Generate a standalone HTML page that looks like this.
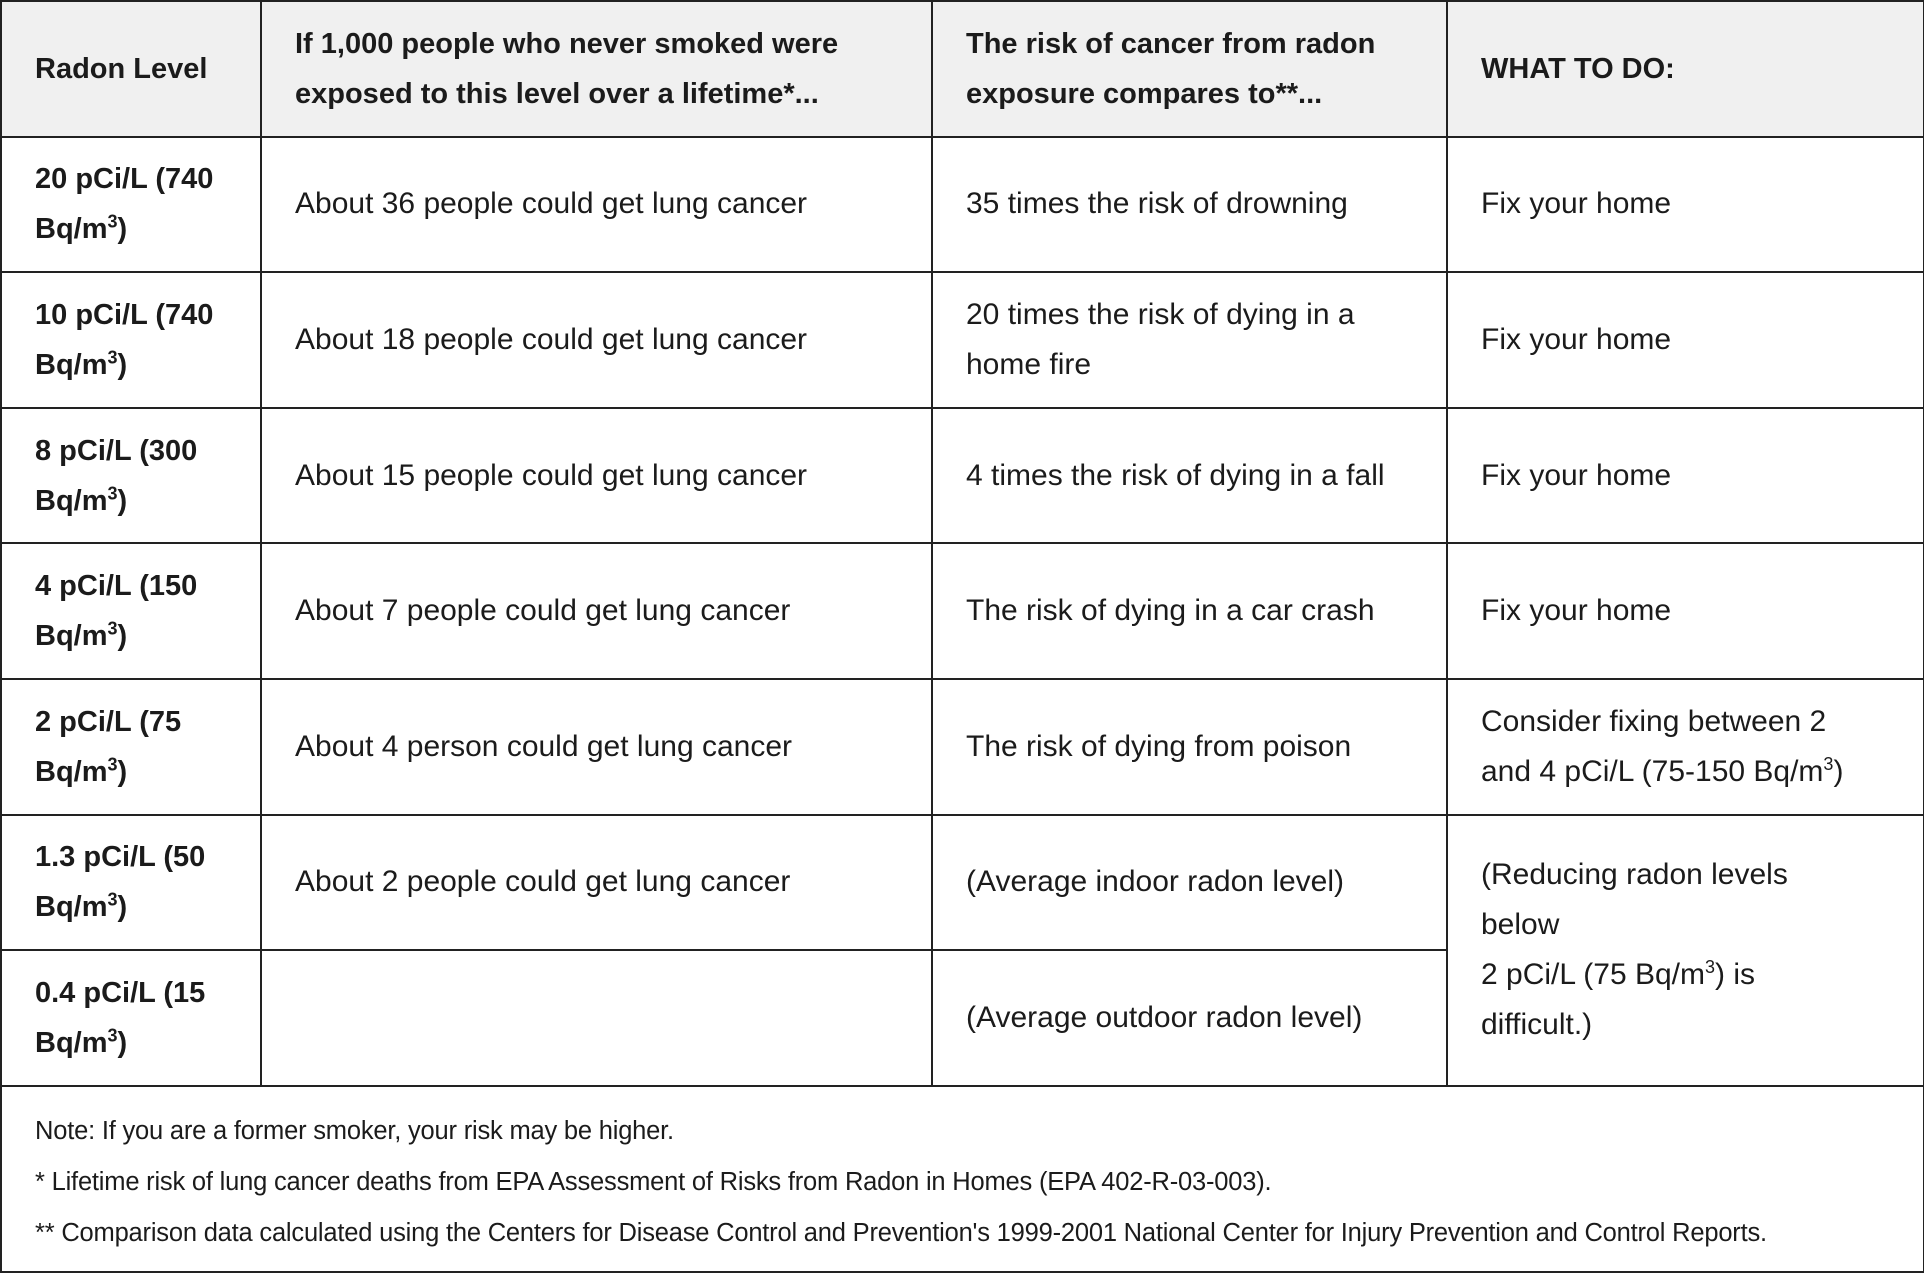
<!DOCTYPE html>
<html><head><meta charset="utf-8"><style>
html,body{margin:0;padding:0;background:#fff;}
body{width:1924px;height:1274px;overflow:hidden;font-family:"Liberation Sans",sans-serif;color:#1b1b1b;}
table{position:absolute;left:0;top:0;border-collapse:collapse;width:1923px;table-layout:fixed;}
td,th{border:2px solid #222;padding:0 26px 0 33px;font-size:30px;line-height:50px;text-align:left;vertical-align:middle;letter-spacing:0;}
th{background:#f0f0f0;font-weight:bold;height:133.6px;font-size:29px;}
td{height:133.6px;}
td.b{font-weight:bold;font-size:29px;}
sup{font-size:18px;line-height:0;vertical-align:super;}
td.foot{height:165px;font-size:25.5px;line-height:51px;vertical-align:top;padding-top:19px;letter-spacing:-0.2px;}
</style></head><body>
<table>
<colgroup><col style="width:260px"><col style="width:671px"><col style="width:515px"><col style="width:477px"></colgroup>
<tr><th>Radon Level</th><th>If 1,000 people who never smoked were exposed to this level over a lifetime*...</th><th>The risk of cancer from radon exposure compares to**...</th><th>WHAT TO DO:</th></tr>
<tr><td class="b">20 pCi/L (740 Bq/m<sup>3</sup>)</td><td>About 36 people could get lung cancer</td><td>35 times the risk of drowning</td><td>Fix your home</td></tr>
<tr><td class="b">10 pCi/L (740 Bq/m<sup>3</sup>)</td><td>About 18 people could get lung cancer</td><td>20 times the risk of dying in a home fire</td><td>Fix your home</td></tr>
<tr><td class="b">8 pCi/L (300 Bq/m<sup>3</sup>)</td><td>About 15 people could get lung cancer</td><td>4 times the risk of dying in a fall</td><td>Fix your home</td></tr>
<tr><td class="b">4 pCi/L (150 Bq/m<sup>3</sup>)</td><td>About 7 people could get lung cancer</td><td>The risk of dying in a car crash</td><td>Fix your home</td></tr>
<tr><td class="b">2 pCi/L (75 Bq/m<sup>3</sup>)</td><td>About 4 person could get lung cancer</td><td>The risk of dying from poison</td><td>Consider fixing between 2<br>and 4 pCi/L (75-150 Bq/m<sup>3</sup>)</td></tr>
<tr><td class="b">1.3 pCi/L (50 Bq/m<sup>3</sup>)</td><td>About 2 people could get lung cancer</td><td>(Average indoor radon level)</td><td rowspan="2">(Reducing radon levels<br>below<br>2 pCi/L (75 Bq/m<sup>3</sup>) is<br>difficult.)</td></tr>
<tr><td class="b">0.4 pCi/L (15 Bq/m<sup>3</sup>)</td><td></td><td>(Average outdoor radon level)</td></tr>
<tr><td colspan="4" class="foot">Note: If you are a former smoker, your risk may be higher.<br>* Lifetime risk of lung cancer deaths from EPA Assessment of Risks from Radon in Homes (EPA 402-R-03-003).<br>** Comparison data calculated using the Centers for Disease Control and Prevention's 1999-2001 National Center for Injury Prevention and Control Reports.</td></tr>
</table>
</body></html>
